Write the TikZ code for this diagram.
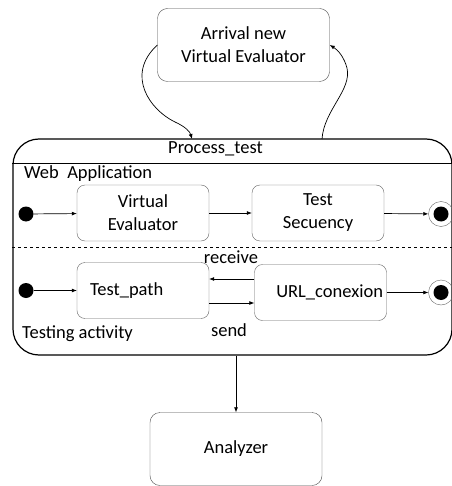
\documentclass[tikz,border=0pt]{standalone}
\usepackage{fontspec}
\setmainfont{Carlito}
\usepackage{tikz}
\usetikzlibrary{arrows.meta, positioning, calc}

\tikzset{
    statebox/.style={draw=black!60, rounded corners=8pt, minimum width=132pt, minimum height=56pt, align=center},
    bigbox/.style={draw=black!70, rounded corners=10pt, minimum width=172pt, minimum height=73pt, align=center},
    initdot/.style={circle, fill=black, inner sep=0pt, minimum size=15pt},
    finaldot/.style={circle, draw=black!60, inner sep=0pt, minimum size=25pt},
    trans/.style={-{Latex[length=5pt,width=4pt]}, line width=0.7pt},
}

\begin{document}
\begin{tikzpicture}[x=1pt, y=-1pt, font=\fontsize{18.5}{23}\selectfont]
    \useasboundingbox[fill=white] (0,0) rectangle (451,486);

    % Outer states
    \node[bigbox] (arrival) at (243.5,45) {Arrival new\\Virtual Evaluator};
    \node[bigbox] (analyzer) at (236,449) {Analyzer};

    % Composite state Process_test
    \node[draw, line width=1.2pt, rounded corners=26pt, minimum width=439pt, minimum height=216pt] (process) at (232.5,247) {};
    \node (title) at (215.5,149) {Process\_test};
    \draw[line width=0.7pt] (process.west |- 0,163) -- (process.east |- 0,163);
    \draw[dashed, line width=0.6pt] (process.west |- 0,247) -- (process.east |- 0,247);
    \coordinate (pin) at (192,139);
    \coordinate (pout) at (322,139);

    % Region labels
    \node[anchor=west, inner sep=0pt] (weblbl) at (24,174) {Web\ \ Application};
    \node[anchor=west, inner sep=0pt] (testlbl) at (22,334) {Testing activity};

    % Web Application region
    \node[initdot] (init1) at (26,214) {};
    \node[statebox] (virtual) at (143,213) {Virtual\\Evaluator};
    \node[statebox] (secuency) at (318,213) {Test\\Secuency};
    \node[finaldot] (fin1) at (441,214) {};
    \fill (fin1) circle (7.5pt);

    % Testing activity region
    \node[initdot] (init2) at (26,290.5) {};
    \node[statebox, inner xsep=0pt, text width=106pt, align=left] (path) at (143,290.5) {Test\_path};
    \node[statebox, inner xsep=0pt, text width=125pt, align=right] (url) at (320.5,292.5) {URL\_conexion};
    \node[finaldot] (fin2) at (441,292.5) {};
    \fill (fin2) circle (7.5pt);

    % Transitions
    \draw[trans] (init1) -- (virtual);
    \draw[trans] (virtual) -- (secuency);
    \draw[trans] (secuency) -- (fin1);
    \draw[trans] (init2) -- (path);
    \draw[trans] (url) -- (fin2);
    \draw[trans] ([yshift=13.5pt]url.west) -- ([yshift=13.5pt]url.west -| path.east);
    \draw[trans] ([yshift=-12.5pt]path.east) -- ([yshift=-12.5pt]path.east -| url.west);
    \node (receive) at (231,257) {receive};
    \node (send) at (229,330) {send};

    \draw[trans] (arrival.west) .. controls (125,75) and (150,110) .. (175,122) .. controls (186,127) and (190,132) .. (pin);
    \draw[trans] (pout) .. controls (324,110) and (352,90) .. (347,68) .. controls (344,57) and (338,50) .. (arrival.east);
    \draw[trans] (analyzer.north |- process.south) -- (analyzer);
\end{tikzpicture}
\end{document}
